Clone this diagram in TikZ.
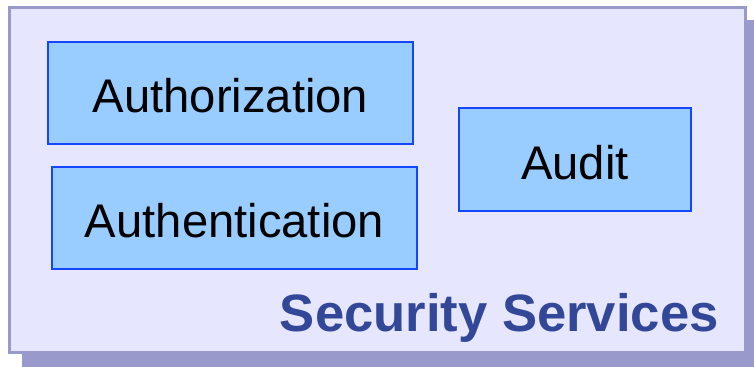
\documentclass[tikz,border=0pt]{standalone}
\usepackage{fontspec}
\setmainfont{Liberation Sans}
\usepackage{tikz}
\definecolor{paneFill}{RGB}{230,230,255}
\definecolor{paneLine}{RGB}{153,153,204}
\definecolor{svcFill}{RGB}{153,204,255}
\definecolor{svcLine}{RGB}{20,70,255}
\definecolor{titleBlue}{RGB}{51,71,153}
\tikzset{
  service/.style={draw=svcLine, fill=svcFill, line width=0.75pt, inner sep=0pt,
    text height=20pt, text depth=0pt, font=\fontsize{23.6}{28}\selectfont},
}

\begin{document}
\begin{tikzpicture}[x=0.5pt, y=-0.5pt]
	\useasboundingbox (0,0) rectangle (754,367);
	\begin{scope}
	\clip (0,0) rectangle (754,367);
	\fill[paneLine] (22,20) rectangle (760,370);
	\end{scope}
	\draw[draw=paneLine, fill=paneFill, line width=1.5pt] (9.5,7.5) rectangle (745,353);
	\node[service, minimum width=182.5pt, minimum height=51pt] (authz) at (230.5,93) {Authorization};
	\node[service, minimum width=182.5pt, minimum height=51pt] (authn) at (234.5,218) {Authentication};
	\node[service, minimum width=116pt, minimum height=51.5pt] (audit) at (575,159.5) {Audit};
	\node[anchor=base east, inner sep=0pt, text=titleBlue, font=\fontsize{26.3}{31}\selectfont\bfseries] (title) at (719,332) {Security Services};
\end{tikzpicture}
\end{document}
